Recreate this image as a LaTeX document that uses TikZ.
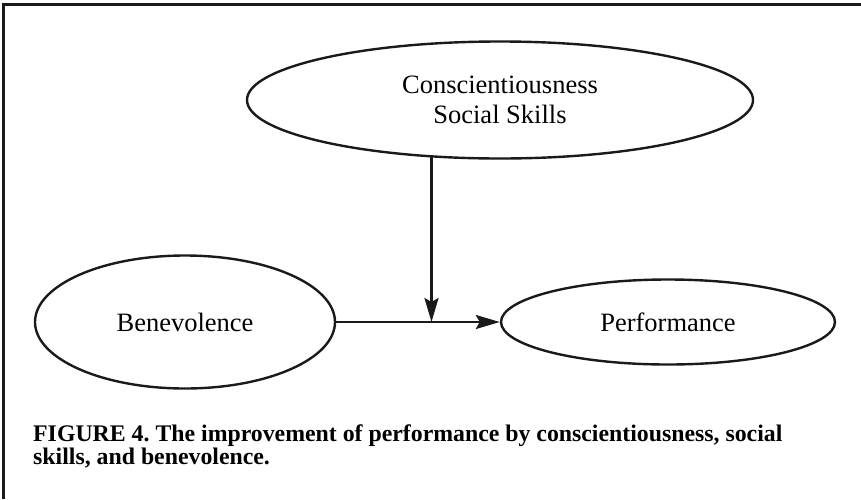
\documentclass[tikz,border=0pt]{standalone}
\usepackage{fontspec}
\setmainfont{Liberation Serif}
\usetikzlibrary{shapes.geometric,arrows.meta}
\definecolor{ink}{HTML}{1A1A1A}
\frenchspacing
\begin{document}
\begin{tikzpicture}[x=1pt,y=-1pt,
  oval/.style={ellipse,draw=ink,line width=2.4pt,inner sep=0pt,align=center,
    font=\fontsize{26.5}{30}\selectfont},
  arr/.style={draw=ink,line width=2.6pt,-{Stealth[length=24pt,width=14pt,inset=4pt]}},
  frameline/.style={draw=ink,line width=2.8pt},
  captext/.style={anchor=base west,inner sep=0pt,font=\fontsize{23.8}{23}\selectfont\bfseries}]
\useasboundingbox (0,0) rectangle (861,499);
\draw[frameline] (861,4.5) -- (3.5,4.5) -- (3.5,499);
\node[oval,minimum width=506pt,minimum height=117pt] (top) at (500,100)
  {Conscientiousness\\Social Skills};
\node[oval,minimum width=300pt,minimum height=133pt] (bene) at (185,322) {Benevolence};
\node[oval,minimum width=334pt,minimum height=85pt] (perf) at (668,322) {Performance};
\draw[arr] (bene.east) -- (perf.west);
\coordinate (mid) at (433,322);
\draw[arr] (top.220) -- (top.220 |- mid);
\node[captext] (cap1) at (33,441) {FIGURE 4. The improvement of performance by conscientiousness, social};
\node[captext] (cap2) at (33,464) {skills, and benevolence.};
\end{tikzpicture}
\end{document}
